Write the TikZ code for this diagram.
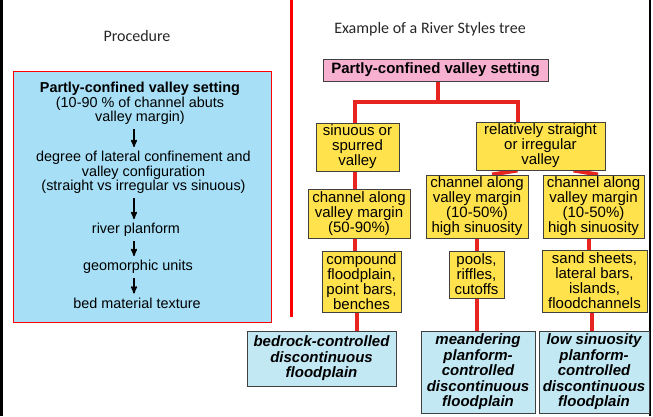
\documentclass[tikz,border=0pt]{standalone}
\usepackage{fontspec}
\setmainfont{Liberation Sans}
\newfontfamily\headfont{Carlito}
\usetikzlibrary{arrows,backgrounds}
\definecolor{boxyellow}{RGB}{255,226,76}
\definecolor{boxpink}{RGB}{248,176,208}
\definecolor{boxblue}{RGB}{194,232,244}
\definecolor{procblue}{RGB}{166,223,246}
\definecolor{linkred}{RGB}{232,36,32}
\tikzset{
    %Define standard arrow tip
    >=stealth',
    ybox/.style={
      rectangle,
      draw=black!75, line width=0.9pt,
      fill=boxyellow,
      inner sep=0pt,
      align=center,
      font=\fontsize{15}{15}\selectfont},
    bbox/.style={
      ybox, fill=boxblue,
      font=\fontsize{15}{15.5}\selectfont\bfseries\itshape},
    tbox/.style={
      ybox, fill=boxpink,
      font=\fontsize{15}{16}\selectfont\bfseries},
    ptext/.style={
      align=center, inner sep=4pt,
      font=\fontsize{14.4}{14.6}\selectfont},
    head/.style={
      font=\headfont\fontsize{16}{18}\selectfont,
      text=black!85},
    link/.style={draw=linkred, line width=4pt},
    flow/.style={->, line width=1.5pt},
}

\begin{document}
\begin{tikzpicture}[x=1pt, y=1pt]
    \useasboundingbox (0,0) rectangle (653,-416);
    % frame and separator
    \draw[line width=2.5pt] (1.5,0) -- (1.5,-416);
    \draw[line width=2.5pt] (650,0) -- (650,-416);
    \draw[red, line width=3pt] (291.5,0) -- (291.5,-317);

    % procedure
    \node (proc) [head] at (137,-36) {Procedure};
    \node (pbox) [rectangle, draw=red, line width=1pt, fill=procblue,
          minimum width=258pt, minimum height=251pt] at (142,-196.5) {};
    \node (p1) [ptext] at (140,-103.5)
          {\textbf{Partly-confined valley setting}\\(10-90 \% of channel abuts\\valley margin)};
    \node (p2) [ptext] at (143.5,-172.5)
          {degree of lateral confinement and\\valley configuration\\(straight vs irregular vs sinuous)};
    \node (p3) [ptext] at (136,-230) {river planform};
    \node (p4) [ptext] at (138,-267) {geomorphic units};
    \node (p5) [ptext] at (137,-303) {bed material texture};
    \coordinate (ax) at (134,0);
    \draw[flow] (p1.south -| ax) -- (p2.north -| ax);
    \draw[flow] (p2.south -| ax) -- (p3.north -| ax);
    \draw[flow] (p3.south -| ax) -- (p4.north -| ax);
    \draw[flow] (p4.south -| ax) -- (p5.north -| ax);

    % river styles tree
    \node (ex) [head] at (430,-29) {Example of a River Styles tree};
    \node (top) [tbox, minimum width=225pt, minimum height=22pt] at (435.5,-70)
          {Partly-confined valley setting};
    \node (sin) [ybox, minimum width=83pt, minimum height=48pt] at (357.5,-147)
          {sinuous or\\spurred\\valley};
    \node (str) [ybox, minimum width=129pt, minimum height=48pt] at (540.5,-146)
          {relatively straight\\or irregular\\valley};
    \node (ch1) [ybox, minimum width=102pt, minimum height=49pt] at (359,-213.5)
          {channel along\\valley margin\\(50-90\%)};
    \node (ch2) [ybox, minimum width=102pt, minimum height=63pt] at (477,-206.5)
          {channel along\\valley margin\\(10-50\%)\\high sinuosity};
    \node (ch3) [ybox, minimum width=101pt, minimum height=63pt] at (593.5,-206.5)
          {channel along\\valley margin\\(10-50\%)\\high sinuosity};
    \node (gu1) [ybox, minimum width=79pt, minimum height=61pt] at (361.5,-281.5)
          {compound\\floodplain,\\point bars,\\benches};
    \node (gu2) [ybox, minimum width=55pt, minimum height=47pt] at (476.5,-274.5)
          {pools,\\riffles,\\cutoffs};
    \node (gu3) [ybox, minimum width=105pt, minimum height=62pt] at (594.5,-281)
          {sand sheets,\\lateral bars,\\islands,\\floodchannels};
    \node (rs1) [bbox, minimum width=149pt, minimum height=55pt] at (321.5,-358.5)
          {bedrock-controlled\\discontinuous\\floodplain};
    \node (rs2) [bbox, minimum width=114pt, minimum height=82pt] at (478,-372)
          {meandering\\planform-\\controlled\\discontinuous\\floodplain};
    \node (rs3) [bbox, minimum width=110pt, minimum height=82pt] at (594,-372)
          {low sinuosity\\planform-\\controlled\\discontinuous\\floodplain};

    \begin{scope}[on background layer]
      \coordinate (fork) at (438,-102);
      \coordinate (forkL) at (355,-102);
      \coordinate (forkR) at (518,-102);
      \draw[link] (top.south -| fork) -- (fork);
      \draw[link] (forkL |- sin.north) -- (forkL) -- (forkR) -- (forkR |- str.north);
      \draw[link] ([xshift=-23pt]str.south) -- ([xshift=15pt]ch2.north);
      \draw[link] ([xshift=33pt]str.south) -- ([xshift=4.5pt]ch3.north);
      \draw[link] ([xshift=-2.5pt]sin.south) -- ([xshift=-2.5pt]sin.south |- ch1.north);
      \draw[link] ([xshift=-4pt]ch1.south) -- ([xshift=-4pt]ch1.south |- gu1.north);
      \draw[link] (ch2.south) -- (ch2.south |- gu2.north);
      \draw[link] ([xshift=-4.5pt]ch3.south) -- ([xshift=-4.5pt]ch3.south |- gu3.north);
      \draw[link] ([xshift=-4.5pt]gu1.south) -- ([xshift=-4.5pt]gu1.south |- rs1.north);
      \draw[link] (gu2.south) -- (gu2.south |- rs2.north);
      \draw[link] ([xshift=-2.5pt]gu3.south) -- ([xshift=-2.5pt]gu3.south |- rs3.north);
    \end{scope}
\end{tikzpicture}
\end{document}
